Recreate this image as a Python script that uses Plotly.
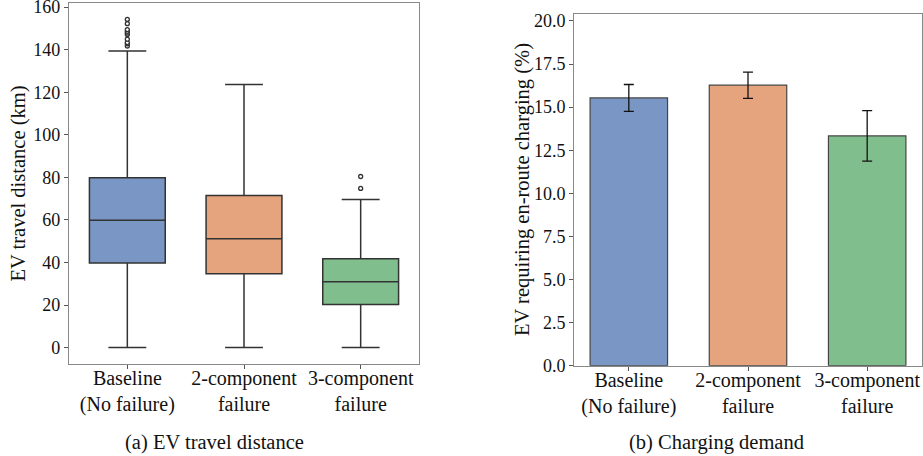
import plotly.graph_objects as go

categories = ["Baseline<br>(No failure)", "2-component<br>failure", "3-component<br>failure"]
colors = ["#7A96C4", "#E5A37E", "#80BF8D"]

# Panel (a): box statistics (km)
q1 = [39.7, 34.7, 20.2]
median = [59.8, 51.2, 31.0]
q3 = [79.8, 71.5, 41.8]
lower_fence = [0.0, 0.0, 0.0]
upper_fence = [139.3, 123.6, 69.6]
outliers_baseline = [141.7, 142.7, 143.3, 144.9, 147.1, 147.8, 148.6, 149.4, 152.2, 154.2]
outliers_2comp = []
outliers_3comp = [74.8, 80.4]

# Panel (b): charging demand (%)
charging_mean = [15.53, 16.27, 13.33]
charging_err = [0.78, 0.76, 1.46]

FONT = "Liberation Serif"
W, H = 923, 456

fig = go.Figure()

outliers = [outliers_baseline, outliers_2comp, outliers_3comp]
for i, cat in enumerate(categories):
    fig.add_trace(go.Box(
        x=[cat], q1=[q1[i]], median=[median[i]], q3=[q3[i]],
        lowerfence=[lower_fence[i]], upperfence=[upper_fence[i]],
        width=0.65, whiskerwidth=0.5,
        fillcolor=colors[i], line=dict(color="#333333", width=1.5),
        boxpoints=False, showlegend=False, hoverinfo="skip",
        xaxis="x", yaxis="y",
    ))
    if outliers[i]:
        fig.add_trace(go.Scatter(
            x=[cat] * len(outliers[i]), y=outliers[i], mode="markers",
            marker=dict(symbol="circle", size=4, color="white",
                        line=dict(color="#333333", width=1.3)),
            showlegend=False, hoverinfo="skip", xaxis="x", yaxis="y",
        ))

fig.add_trace(go.Bar(
    x=categories, y=charging_mean, width=0.65,
    marker=dict(color=colors, line=dict(color="#444444", width=1.2)),
    error_y=dict(type="data", array=charging_err, color="#111111",
                 thickness=1.3, width=5),
    showlegend=False, hoverinfo="skip", xaxis="x2", yaxis="y2",
))

axis_common = dict(
    showline=True, mirror=True, linecolor="#888888", linewidth=1.3,
    ticks="outside", ticklen=4, tickcolor="#555555", tickwidth=1,
    showgrid=False, zeroline=False, automargin=False, ticklabeloverflow="allow",
)

fig.update_layout(
    width=W, height=H,
    margin=dict(l=0, r=0, t=0, b=0),
    paper_bgcolor="white", plot_bgcolor="white",
    font=dict(family=FONT, color="#111111"),
    xaxis=dict(domain=[69 / W, 419 / W], type="category", range=[-0.5, 2.5],
               tickfont=dict(size=20, family=FONT), ticklabelstandoff=-8,
               anchor="y", **axis_common),
    yaxis=dict(domain=[1 - 364 / H, 1 - 3 / H], range=[-7.7, 161.9],
               tickvals=[0, 20, 40, 60, 80, 100, 120, 140, 160],
               tickfont=dict(size=18, family=FONT), anchor="x", **axis_common),
    xaxis2=dict(domain=[574.3 / W, 921.7 / W], type="category", range=[-0.4575, 2.4575],
                tickfont=dict(size=20, family=FONT), ticklabelstandoff=-8,
                anchor="y2", **axis_common),
    yaxis2=dict(domain=[1 - 365.7 / H, 1 - 14 / H], range=[0, 20.4],
                tickvals=[0, 2.5, 5, 7.5, 10, 12.5, 15, 17.5, 20], tickformat=".1f",
                tickfont=dict(size=18, family=FONT), anchor="x2", **axis_common),
    annotations=[
        dict(text="EV travel distance (km)", xref="paper", yref="paper",
             x=18 / W, y=1 - 183.5 / H, xanchor="center", yanchor="middle",
             textangle=-90, showarrow=False, font=dict(size=20.5, family=FONT)),
        dict(text="EV requiring en-route charging (%)", xref="paper", yref="paper",
             x=522 / W, y=1 - 190 / H, xanchor="center", yanchor="middle",
             textangle=-90, showarrow=False, font=dict(size=20.5, family=FONT)),
        dict(text="(a) EV travel distance", xref="paper", yref="paper",
             x=214 / W, y=1 - 442 / H, xanchor="center", yanchor="middle",
             showarrow=False, font=dict(size=20.5, family=FONT)),
        dict(text="(b) Charging demand", xref="paper", yref="paper",
             x=716.7 / W, y=1 - 442 / H, xanchor="center", yanchor="middle",
             showarrow=False, font=dict(size=20.5, family=FONT)),
    ],
)

fig.write_html("out.html", config={"displayModeBar": False},
               post_script="document.body.style.margin='0';document.body.style.overflow='hidden';")
